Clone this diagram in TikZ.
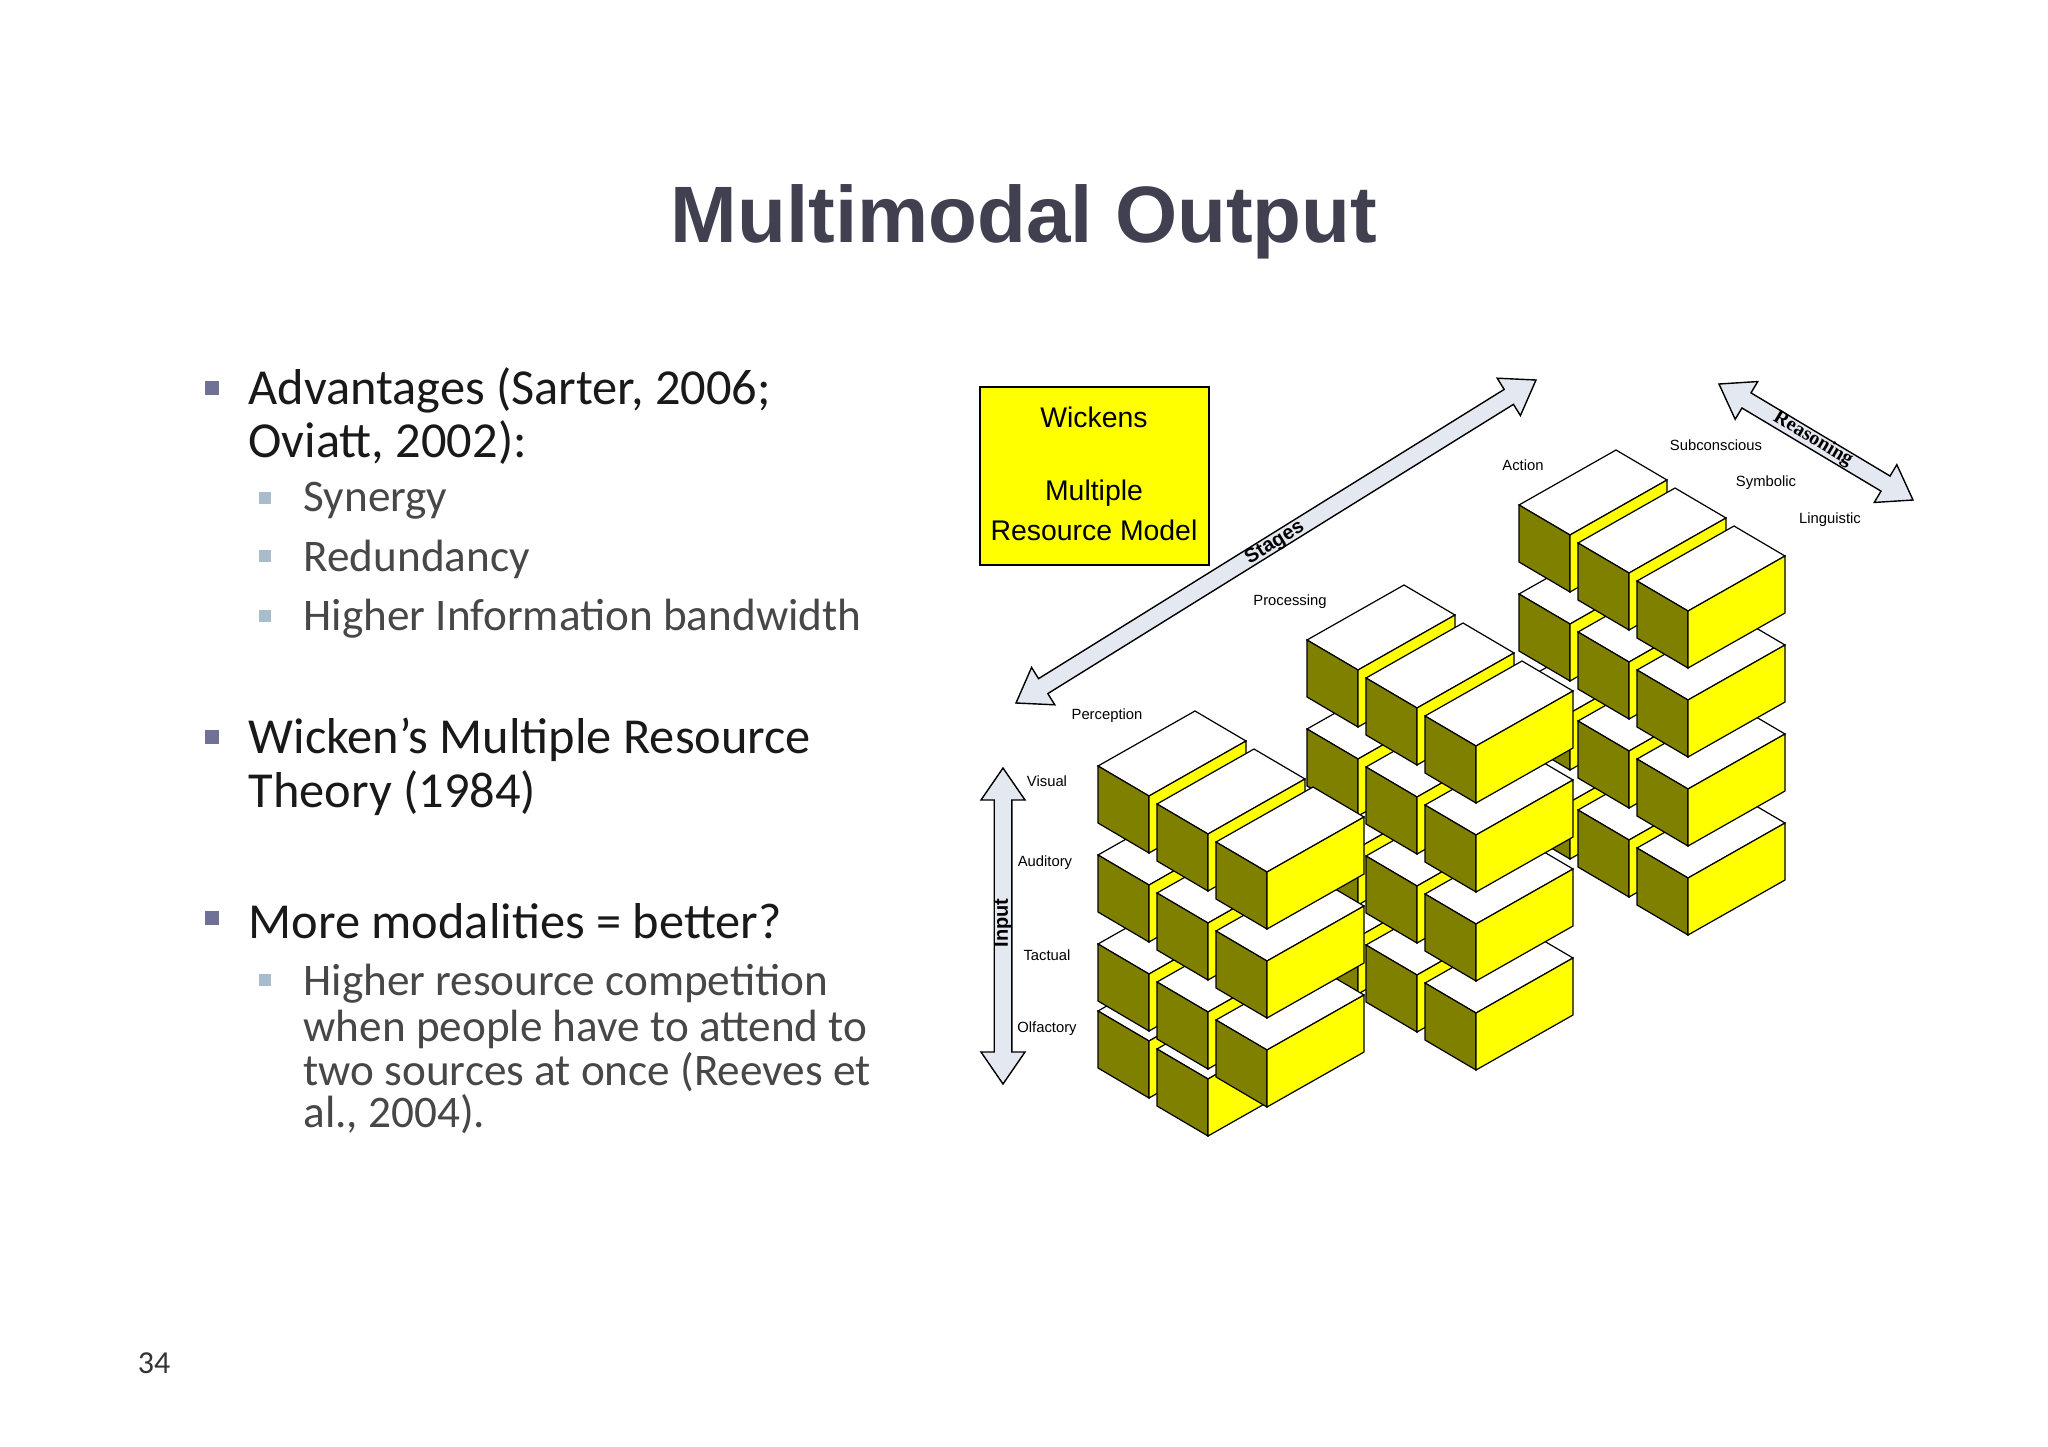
\documentclass[tikz,border=0pt]{standalone}
\usepackage{fontspec}
\setmainfont{Carlito}
\newfontfamily\arialf{Liberation Sans}
\newfontfamily\serf{Liberation Serif}
\usetikzlibrary{calc}
\definecolor{yel}{HTML}{FFFF00}
\definecolor{olv}{HTML}{808000}
\definecolor{arrf}{HTML}{E4E8F0}
\definecolor{titc}{HTML}{404050}
\definecolor{bmain}{HTML}{6F7296}
\definecolor{bsub}{HTML}{A8BCCB}
\newcommand\mybox[2]{%
 \begin{scope}[shift={(#1,#2)}]
 \filldraw[fill=white] (0,0) -- (51,30) -- (148,-25) -- (97,-55) -- cycle;
 \filldraw[fill=olv] (0,0) -- (51,30) -- (51,87) -- (0,57) -- cycle;
 \filldraw[fill=yel] (51,30) -- (148,-25) -- (148,32) -- (51,87) -- cycle;
 \end{scope}}
\newcommand\dblarrow[2]{%
 \coordinate (b1) at ($(#1)!8pt!(#2)$);
 \coordinate (b2) at ($(#2)!8pt!(#1)$);
 \filldraw[fill=arrf,line width=0.35pt] (#1) -- ($(b1)!5.5pt!90:(#2)$) -- ($(b1)!2.2pt!90:(#2)$)
   -- ($(b2)!2.2pt!-90:(#1)$) -- ($(b2)!5.5pt!-90:(#1)$) -- (#2)
   -- ($(b2)!5.5pt!90:(#1)$) -- ($(b2)!2.2pt!90:(#1)$)
   -- ($(b1)!2.2pt!-90:(#2)$) -- ($(b1)!5.5pt!-90:(#2)$) -- cycle;}
\tikzset{
 mainb/.style={anchor=west,font=\fontsize{12.6}{14}\selectfont,text=black!90,inner sep=0},
 subb/.style={anchor=west,font=\fontsize{11.3}{13}\selectfont,text=black!72,inner sep=0},
 sq/.style={fill=bmain,minimum size=3.4pt,inner sep=0},
 sqs/.style={fill=bsub,minimum size=2.9pt,inner sep=0},
 lab/.style={font=\arialf\fontsize{3.7}{4}\selectfont,inner sep=0}
}
\begin{document}
\begin{tikzpicture}[x=0.25pt,y=-0.25pt,line width=0.3pt]
\useasboundingbox (0,0) rectangle (2048,1447);
\fill[white] (0,0) rectangle (2048,1447);
\node[font=\arialf\bfseries\fontsize{20}{24}\selectfont,text=titc] (title) at (1024,222) {Multimodal Output};
% bullets
\node[sq] (s1) at (212,388) {}; \node[mainb] (t1) at (248,390) {Advantages (Sarter, 2006;};
\node[mainb] (t1b) at (248,443) {Oviatt, 2002):};
\node[sqs] (s2) at (265,498) {}; \node[subb] (t2) at (303,501) {Synergy};
\node[sqs] (s3) at (265,556) {}; \node[subb] (t3) at (303,559) {Redundancy};
\node[sqs] (s4) at (265,616) {}; \node[subb] (t4) at (303,619) {Higher Information bandwidth};
\node[sq] (s5) at (212,737) {}; \node[mainb] (t5) at (248,740) {Wicken’s Multiple Resource};
\node[mainb] (t5b) at (248,793) {Theory (1984)};
\node[sq] (s6) at (212,918) {}; \node[mainb] (t6) at (248,921) {More modalities = better?};
\node[sqs] (s7) at (265,980) {}; \node[subb] (t7) at (303,984) {Higher resource competition};
\node[subb] (t7b) at (303,1029) {when people have to attend to};
\node[subb] (t7c) at (303,1072) {two sources at once (Reeves et};
\node[subb] (t7d) at (303,1114) {al., 2004).};
\node[font=\fontsize{8}{9}\selectfont,text=black!80] (pg) at (154,1363) {34};
% yellow box
\draw[fill=yel,line width=0.4pt] (980,387) rectangle (1209,565);
\node[font=\arialf\fontsize{7.1}{8}\selectfont] (w1) at (1094,417) {Wickens};
\node[font=\arialf\fontsize{7.1}{8}\selectfont] (w2) at (1094,493) {Multiple};
\node[font=\arialf\fontsize{7.1}{8}\selectfont] (w3) at (1094,530) {Resource Model};
% arrows
\coordinate (stA) at (1016,703); \coordinate (stB) at (1536,380);
\dblarrow{stA}{stB}
\node[font=\arialf\bfseries\fontsize{5}{6}\selectfont,rotate=31.8] (stl) at (1275,543) {Stages};
\coordinate (reA) at (1719,384); \coordinate (reB) at (1913,500);
\dblarrow{reA}{reB}
\node[font=\serf\bfseries\fontsize{5}{6}\selectfont,rotate=-30.9] (rel) at (1813,439) {Reasoning};
\coordinate (inA) at (1003,768); \coordinate (inB) at (1003,1084);
\dblarrow{inA}{inB}
\node[font=\arialf\bfseries\fontsize{5}{6}\selectfont,rotate=90] (inl) at (1003,923) {Input};
% labels
\node[lab] (l1) at (1523,465) {Action};
\node[lab] (l2) at (1716,445) {Subconscious};
\node[lab] (l3) at (1766,483) {Symbolic};
\node[lab] (l4) at (1830,520) {Linguistic};
\node[lab] (l5) at (1290,602) {Processing};
\node[lab] (l6) at (1107,716) {Perception};
\node[lab] (l7) at (1047,781) {Visual};
\node[lab] (l8) at (1045,863) {Auditory};
\node[lab] (l9) at (1047,955) {Tactual};
\node[lab] (l10) at (1047,1029) {Olfactory};
% cubes
\foreach \cx/\cy/\k in {1519/505/0, 1307/640/0, 1098/766/1} {
 \foreach \l in {3,2,1,0} {
  \foreach \r in {0,1,2} {
   \pgfmathtruncatemacro\skipit{(\k==1 && \l==3 && \r==2) ? 1 : 0}
   \pgfmathtruncatemacro\dy{(\k==1 && \l==3) ? -22 : 0}
   \ifnum\skipit=0
   \mybox{{\cx+\r*59}}{{\cy+\r*38+\l*89+\dy}}
   \fi
  }}}
\end{tikzpicture}
\end{document}
